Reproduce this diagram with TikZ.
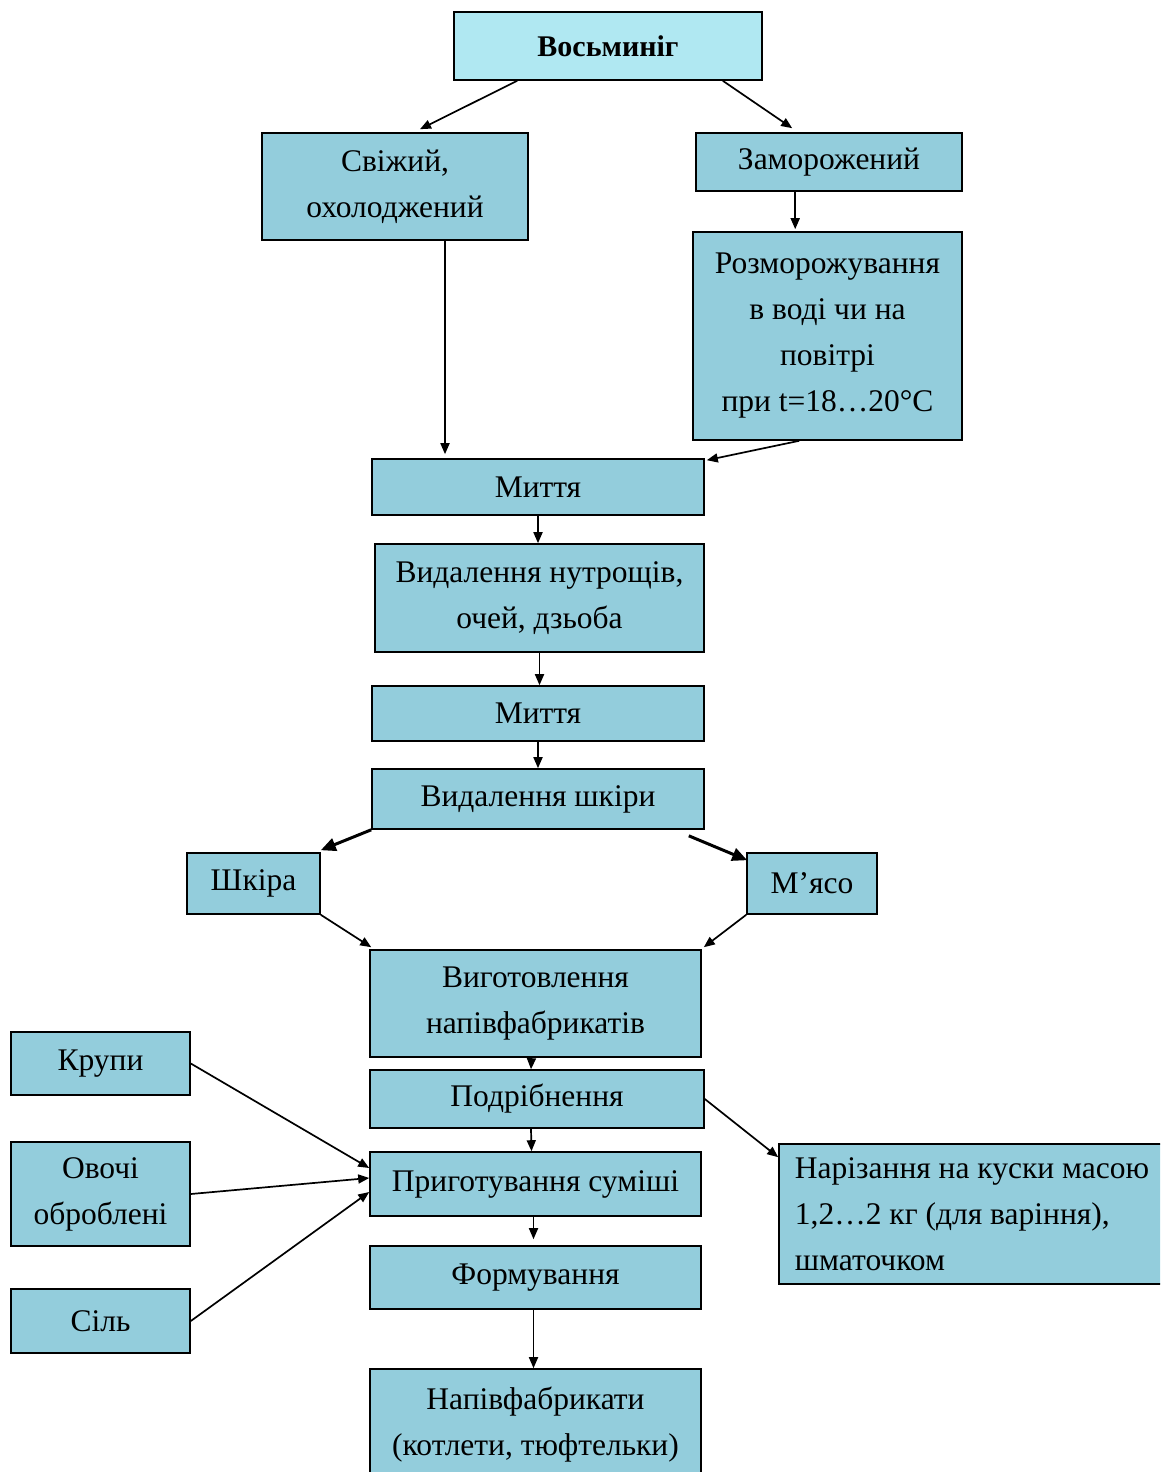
\documentclass[tikz,border=0pt]{standalone}
\usepackage{fontspec}
\setmainfont{Liberation Serif}
\newfontfamily\boxfont{Liberation Serif}
\usetikzlibrary{calc, arrows.meta}

\definecolor{boxblue}{HTML}{93CDDC}
\definecolor{topblue}{HTML}{B0E8F2}

\tikzset{
  box/.style={draw=black, line width=1.6pt, fill=boxblue, inner sep=0pt,
    align=center, font=\boxfont\fontsize{31.5}{46}\selectfont},
  arr/.style={line width=1.7pt, -{Triangle[length=11pt,width=9pt]}},
  thickarr/.style={line width=3pt, -{Triangle[length=15pt,width=13pt]}}
}

\begin{document}
\begin{tikzpicture}[x=1pt,y=-1pt]
  \useasboundingbox (0,0) rectangle (1160,1472);
  \clip (0,0) rectangle (1160,1472);

  % вузли
  \node[box, fill=topblue, minimum width=308, minimum height=68, font=\boxfont\fontsize{30}{46}\selectfont\bfseries] (oct) at (608,46) {Восьминіг};
  \node[box, minimum width=266, minimum height=107] (fresh) at (395,186.5) {Свіжий,\\охолоджений};
  \node[box, minimum width=266, minimum height=58] (frozen) at (829,162) {Заморожений};
  \node[box, minimum width=269, minimum height=208] (thaw) at (827.5,336) {Розморожування\\в воді чи на\\повітрі\\при t=18…20°C};
  \node[box, minimum width=332, minimum height=56] (wash1) at (538,487) {Миття};
  \node[box, minimum width=329, minimum height=108] (gut) at (539.5,598) {Видалення нутрощів,\\очей, дзьоба};
  \node[box, minimum width=332, minimum height=55] (wash2) at (538,713.5) {Миття};
  \node[box, minimum width=332, minimum height=60] (skinoff) at (538,799) {Видалення шкіри};
  \node[box, minimum width=133, minimum height=61] (skin) at (253.5,883.5) {Шкіра};
  \node[box, minimum width=130, minimum height=61] (meat) at (812,883.5) {М’ясо};
  \node[box, minimum width=331, minimum height=107] (semi) at (535.5,1003.5) {Виготовлення\\напівфабрикатів};
  \node[box, minimum width=334, minimum height=58] (mince) at (537,1099) {Подрібнення};
  \node[box, minimum width=331, minimum height=64] (mix) at (535.5,1184) {Приготування суміші};
  \node[box, minimum width=331, minimum height=63] (form) at (535.5,1277.5) {Формування};
  \node[box, minimum width=331, minimum height=111] (final) at (535.5,1424.5) {Напівфабрикати\\(котлети, тюфтельки)};
  \node[box, minimum width=179, minimum height=63] (grain) at (100.5,1063.5) {Крупи};
  \node[box, minimum width=179, minimum height=104] (veg) at (100.5,1194) {Овочі\\оброблені};
  \node[box, minimum width=179, minimum height=64] (salt) at (100.5,1321) {Сіль};
  \node[box, minimum width=386, minimum height=140, align=left] (cut) at (972,1214) {Нарізання на куски масою\\1,2…2 кг (для варіння),\\шматочком};

  % стрілки
  \coordinate (fr) at ($(fresh.south)+(50,0)$);
  \draw[arr] ($(oct.south west)+(64,0)$) -- ($(fresh.north)+(25,-3)$);
  \draw[arr] ($(oct.south east)+(-40,0)$) -- ($(frozen.north west)+(97,-4)$);
  \draw[arr] ($(frozen.south west)+(100,0)$) -- ($(thaw.north west)+(103,-2)$);
  \draw[arr] (fr) -- ([yshift=4pt]fr |- wash1.north);
  \draw[arr] ($(thaw.south west)+(107,0)$) -- ($(wash1.north east)+(2,2)$);
  \draw[arr] (wash1.south) -- (wash1.south |- gut.north);
  \draw[arr] (gut.south) -- (gut.south |- wash2.north);
  \draw[arr] (wash2.south) -- (wash2.south |- skinoff.north);
  \draw[thickarr] (skinoff.south west) -- ($(skin.north east)+(0,-2)$);
  \draw[thickarr] ($(skinoff.south east)+(-16,6)$) -- ($(meat.north west)+(1,8)$);
  \draw[arr] (skin.south east) -- ($(semi.north west)+(2,-2)$);
  \draw[arr] (meat.south west) -- ($(semi.north east)+(2,-2)$);
  \draw[arr] ($(semi.south)+(-4,0)$) -- ($(mince.north)+(-6,0)$);
  \draw[arr] ($(mince.south)+(-6,0)$) -- ($(mix.north)+(-4,0)$);
  \draw[arr] (mince.east) -- ($(cut.north west)+(0,14)$);
  \draw[arr] ($(mix.south)+(-2,0)$) -- ($(form.north)+(-2,-6)$);
  \draw[arr] ($(form.south)+(-2,0)$) -- ($(final.north)+(-2,0)$);
  \draw[arr] (grain.east) -- ($(mix.west)+(0,-16)$);
  \draw[arr] (veg.east) -- ($(mix.west)+(0,-6)$);
  \draw[arr] (salt.east) -- ($(mix.west)+(0,8)$);
\end{tikzpicture}
\end{document}
